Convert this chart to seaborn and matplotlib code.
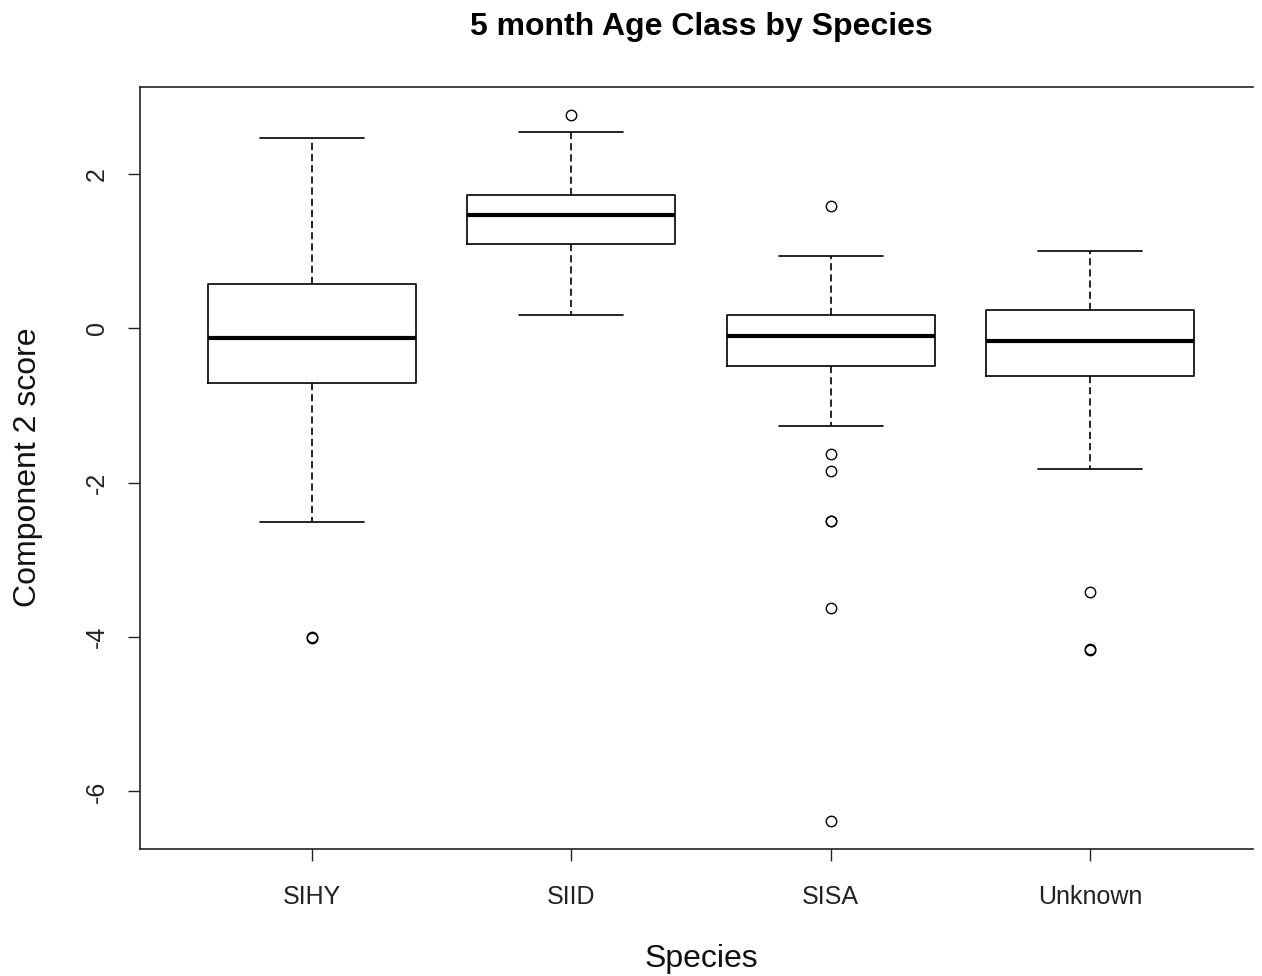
import numpy as np
import pandas as pd
import matplotlib
matplotlib.use("Agg")
import matplotlib.pyplot as plt
import seaborn as sns

# ---- data ----
species = ["SIHY", "SIID", "SISA", "Unknown"]
whisker_low = [-2.51, 0.17, -1.27, -1.82]
q1 = [-0.71, 1.09, -0.49, -0.62]
median = [-0.13, 1.47, -0.10, -0.17]
q3 = [0.57, 1.73, 0.17, 0.24]
whisker_high = [2.46, 2.54, 0.94, 1.00]
outliers = [
    [-4.015, -4.005],
    [2.76],
    [1.58, -1.63, -1.85, -2.49, -2.50, -3.62, -6.38],
    [-3.41, -4.155, -4.165],
]
yticks = [-6, -4, -2, 0, 2]


def sample_from_summary(wl, a, m, b, wh, outs):
    """Build a sample whose linear-percentile quartiles and Tukey whiskers equal the summary."""
    lows = sorted(o for o in outs if o < a)
    highs = sorted(o for o in outs if o > b)
    L = len(lows) + 1
    H = len(highs) + 1
    k = max(L, H)
    below = lows + [wl] + [a] * (k - L)
    above = [b] * (k - H) + [wh] + highs
    return below + [a] + [a] * (k - 1) + [m] + [m] * (k - 1) + [b] + above


rows = []
for i, sp in enumerate(species):
    vals = sample_from_summary(whisker_low[i], q1[i], median[i], q3[i], whisker_high[i], outliers[i])
    rows += [(sp, v) for v in vals]
df = pd.DataFrame(rows, columns=["Species", "score"])

# ---- styling ----
sns.set_style("ticks")
plt.rcParams["font.family"] = ["Liberation Sans", "DejaVu Sans"]

W, H = 1262, 976
fig = plt.figure(figsize=(W / 100, H / 100), dpi=100)
left, right, top, bottom = 140, 1253, 87.3, 849
ax = fig.add_axes([left / W, (H - bottom) / H, (right - left) / W, (bottom - top) / H])

sns.boxplot(
    data=df, x="Species", y="score", order=species, ax=ax,
    width=0.8, fill=False, color="black", linecolor="black", linewidth=1.2,
    whis=1.5,
    medianprops=dict(linewidth=3.0, color="black"),
    whiskerprops=dict(linestyle=(0, (4.3, 2.4)), linewidth=1.2, color="black"),
    capprops=dict(linewidth=1.2, color="black"),
    boxprops=dict(linewidth=1.2, color="black"),
    flierprops=dict(marker="o", markersize=7.5, markerfacecolor="none",
                    markeredgecolor="black", markeredgewidth=1.0),
)

ax.set_xlim(-0.6616, 3.627)
ax.set_ylim(-6.745, 3.122)
ax.set_yticks(yticks)
ax.set_yticklabels([str(t) for t in yticks])

for s in ["left", "top", "bottom"]:
    ax.spines[s].set_visible(True)
    ax.spines[s].set_color("#222222")
    ax.spines[s].set_linewidth(1.2)
ax.spines["right"].set_visible(False)

ax.tick_params(axis="both", length=8.6, width=1.0, color="#222222", labelsize=18,
               labelcolor="#222222", direction="out")
ax.tick_params(axis="x", pad=17)
ax.tick_params(axis="y", pad=14, labelrotation=90)
for lab in ax.get_yticklabels():
    lab.set_verticalalignment("center")

ax.set_xlabel("Species", fontsize=23, color="#111111")
ax.set_ylabel("Component 2 score", fontsize=23, color="#111111")
ax.xaxis.set_label_coords(((left + right) / 2 - left) / (right - left) + 0.004, (bottom - 959) / (bottom - top))
ax.xaxis.label.set_verticalalignment("center")
ax.yaxis.set_label_coords((28 - left) / (right - left), (bottom - 467) / (bottom - top))
ax.yaxis.label.set_verticalalignment("center")

fig.text(701 / W, 1 - 27 / H, "5 month Age Class by Species", ha="center", va="center",
         fontsize=23, fontweight="bold", color="black")

fig.savefig("out.png", dpi=100, facecolor="white")
